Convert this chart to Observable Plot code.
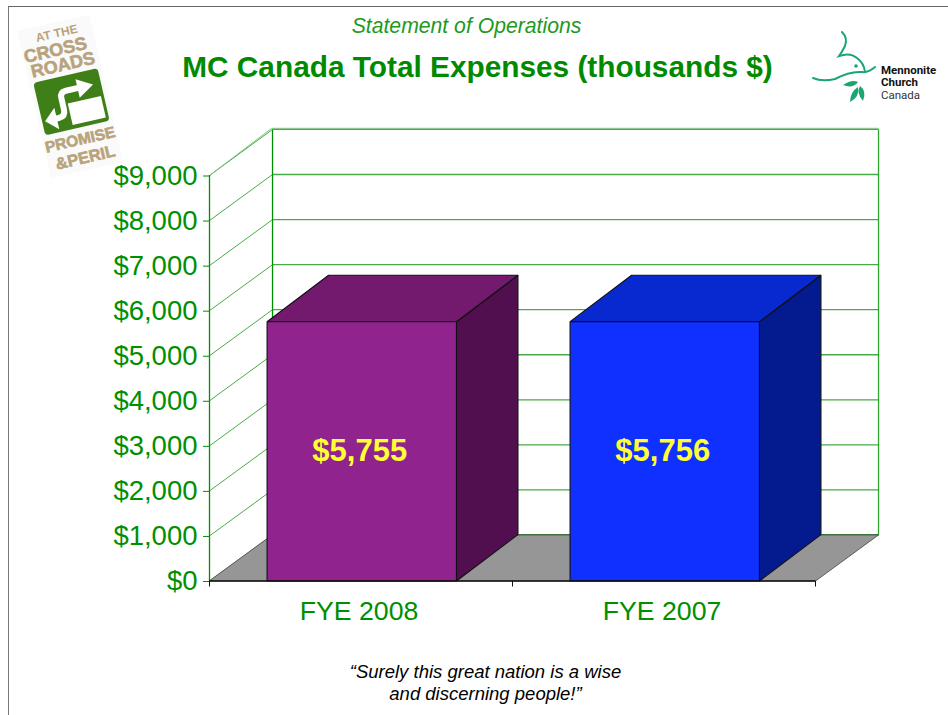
<!DOCTYPE html>
<html>
<head>
<meta charset="utf-8">
<script src="https://cdn.jsdelivr.net/npm/d3@7"></script>
<script src="https://cdn.jsdelivr.net/npm/@observablehq/plot@0.6"></script>
<style>
html,body{margin:0;padding:0;background:#fff;}
#page{position:relative;width:948px;height:715px;overflow:hidden;font-family:"Liberation Sans",Arial,sans-serif;}
#frame{position:absolute;left:8px;top:6px;right:-4px;bottom:-4px;border-top:1.5px solid #666;border-left:1.5px solid #777;}
#head{position:relative;height:100px;}
#sub{position:absolute;left:0;width:933px;top:14px;text-align:center;font-style:italic;font-size:21.2px;line-height:24px;color:#1d9a1d;}
#title{position:absolute;left:0;width:955px;top:48px;text-align:center;font-weight:bold;font-size:29.8px;line-height:38px;color:#008a00;}
#chart svg{display:block;background:transparent;overflow:visible;}
#chart{position:relative;}
#caption{position:absolute;left:0;width:971px;top:661px;text-align:center;font-style:italic;font-size:18.5px;line-height:22px;color:#000;}
.logo{position:absolute;left:0;top:0;}
</style>
</head>
<body>
<div id="page">
  <div id="frame"></div>
  <svg class="logo" width="948" height="185" viewBox="0 0 948 185">
    <g transform="rotate(-13 70 100)" font-family="'Liberation Sans',Arial,sans-serif" font-weight="bold" fill="#b8a37c" text-anchor="middle">
      <rect x="34" y="21" width="74" height="151" fill="#fafafa"/>
      <text x="72" y="36" font-size="12">AT THE</text>
      <text x="67" y="54" font-size="18" stroke="#b8a37c" stroke-width="0.6">CROSS</text>
      <text x="71" y="70" font-size="18" stroke="#b8a37c" stroke-width="0.6">ROADS</text>
      <rect x="38" y="75" width="66" height="54" rx="4" fill="#3f7f17"/>
      <rect x="67" y="103" width="34" height="22" fill="#fff"/>
      <path d="M44 126 V103 H58 V126 Z" fill="#3f7f17"/>
      <path d="M41 115 L53 104 V126 Z" fill="#fff"/>
      <path d="M80 81 L96 90 L80 100 Z" fill="#fff"/>
      <path d="M82 90 H68 Q62 90 62 96 V108 Q62 115 55 115 H50" fill="none" stroke="#fff" stroke-width="6"/>
      <text x="71" y="146" font-size="15.5" stroke="#b8a37c" stroke-width="0.6">PROMISE</text>
      <text x="72" y="165" font-size="16.5" stroke="#b8a37c" stroke-width="0.6">&amp;PERIL</text>
    </g>
    <g fill="none" stroke="#1aa571" stroke-width="2" stroke-linecap="round">
      <path d="M842 32 Q848 38 845 46 Q842 52 839 56 Q850 52 857 58 Q864 63 865 72"/>
      <path d="M813 78 Q822 82 835 79 Q850 71 862 72 Q868 73 875 67"/>
    </g>
    <g fill="#1aa571" stroke="none">
      <circle cx="856" cy="66" r="1.8"/>
      <path d="M843 85 Q852 79 858 82 Q853 89 843 85 Z"/>
      <path d="M850 102 Q850 92 858 87 Q860 97 850 102 Z"/>
      <path d="M863 101 Q856 93 860 86 Q867 91 863 101 Z"/>
    </g>
    <g font-family="Roboto,sans-serif" font-size="11.5" fill="#111">
      <text x="881" y="73.5" font-weight="bold">Mennonite</text>
      <text x="881" y="86" font-weight="bold">Church</text>
      <text x="881" y="99" fill="#333">Canada</text>
    </g>
  </svg>
  <div id="head">
    <div id="sub">Statement of Operations</div>
    <div id="title">MC Canada Total Expenses (thousands $)</div>
  </div>
  <div id="chart"></div>
  <div id="caption">“Surely this great nation is a wise<br>and discerning people!”</div>
</div>
<script>
const categories = ["FYE 2008", "FYE 2007"];
const values = [5755, 5756];
const valueLabels = ["$5,755", "$5,756"];
const yTicks = [0, 1000, 2000, 3000, 4000, 5000, 6000, 7000, 8000, 9000];
const frontColors = ["#91238f", "#0f30ff"];
const topColors = ["#731a6e", "#0829cf"];
const sideColors = ["#520f4f", "#041a8f"];

// Depth of the oblique projection, expressed in scale units
const depthX = 0.208, depthY = 1022;
const barStart = 0.19, barWidth = 0.625, barDepthX = 0.203, barDepthY = 1030;
const GREEN = "#008f00", GRID = "#48ab48", EDGE = "#111";

const face = (pts, fill) => Plot.line(pts, {
  x: d => d[0], y: d => d[1], curve: "linear-closed",
  fill, stroke: EDGE, strokeWidth: 1.1, strokeLinejoin: "miter"
});

const bars = categories.flatMap((c, i) => {
  const x0 = i + barStart, x1 = x0 + barWidth, v = values[i];
  return [
    face([[x1, 0], [x1, v], [x1 + barDepthX, v + barDepthY], [x1 + barDepthX, barDepthY]], sideColors[i]),
    face([[x0, v], [x1, v], [x1 + barDepthX, v + barDepthY], [x0 + barDepthX, v + barDepthY]], topColors[i]),
    face([[x0, 0], [x1, 0], [x1, v], [x0, v]], frontColors[i])
  ];
});

const chart = Plot.plot({
  width: 948, height: 530,
  marginLeft: 209, marginRight: 133, marginTop: 75, marginBottom: 49.5,
  x: {domain: [0, 2], axis: null},
  y: {domain: [0, 9000], axis: null},
  style: {fontFamily: "'Liberation Sans',Arial,sans-serif", background: "transparent", overflow: "visible"},
  marks: [
    // left wall diagonals
    Plot.link(yTicks, {x1: 0, y1: d => d, x2: depthX, y2: d => d + depthY, stroke: GRID, strokeWidth: 1}),
    // back wall grid lines
    Plot.link(yTicks, {x1: depthX, y1: d => d + depthY, x2: 2 + depthX, y2: d => d + depthY,
      stroke: d => d === 0 ? "#007a00" : GRID, strokeWidth: d => d === 0 ? 1.5 : 1.3}),
    // doubled top edge of the walls
    Plot.link([9000], {x1: depthX - 0.003, y1: d => d + depthY + 25, x2: 2 + depthX, y2: d => d + depthY + 25, stroke: "#7cc47c", strokeWidth: 1}),
    Plot.link([9000], {x1: 0, y1: d => d, x2: depthX - 0.003, y2: d => d + depthY + 25, stroke: "#7cc47c", strokeWidth: 1}),
    // back wall verticals
    Plot.link([depthX], {x1: d => d, y1: depthY, x2: d => d, y2: 9000 + depthY, stroke: "#008f00", strokeWidth: 1.3}),
    Plot.link([2 + depthX], {x1: d => d, y1: depthY, x2: d => d, y2: 9000 + depthY, stroke: "#2ea52e", strokeWidth: 1.3}),
    // floor
    Plot.line([[0, 0], [2, 0], [2 + depthX, depthY], [depthX, depthY]], {
      x: d => d[0], y: d => d[1], curve: "linear-closed", fill: "#969696", stroke: "#444", strokeWidth: 0.8
    }),
    // left wall vertical
    Plot.ruleX([0], {y1: 0, y2: 9000, stroke: GREEN, strokeWidth: 1.3}),
    ...bars,
    // axes
    Plot.axisY({ticks: yTicks, tickFormat: d3.format("$,d"), color: GREEN, fontSize: 27.5, tickSize: 6, tickPadding: 6, label: null, anchor: "left", dy: 0.5}),
    Plot.ruleY([0], {x1: 0, x2: 2, stroke: "#111", strokeWidth: 1.4}),
    Plot.axisX({ticks: [0, 1, 2], tickFormat: () => "", color: "#111", tickSize: 6, label: null, anchor: "bottom"}),
    Plot.text(categories, {x: (d, i) => i + 0.5, y: 0, text: d => d, dx: -2, dy: 30, fontSize: 26.7, fill: GREEN}),
    Plot.text(valueLabels, {x: (d, i) => i + barStart + barWidth / 2, y: (d, i) => values[i] / 2, text: d => d, dx: -2,
      fontSize: 31, fontWeight: "bold", fill: "#ffff33"})
  ]
});
document.getElementById("chart").appendChild(chart);
</script>
</body>
</html>
